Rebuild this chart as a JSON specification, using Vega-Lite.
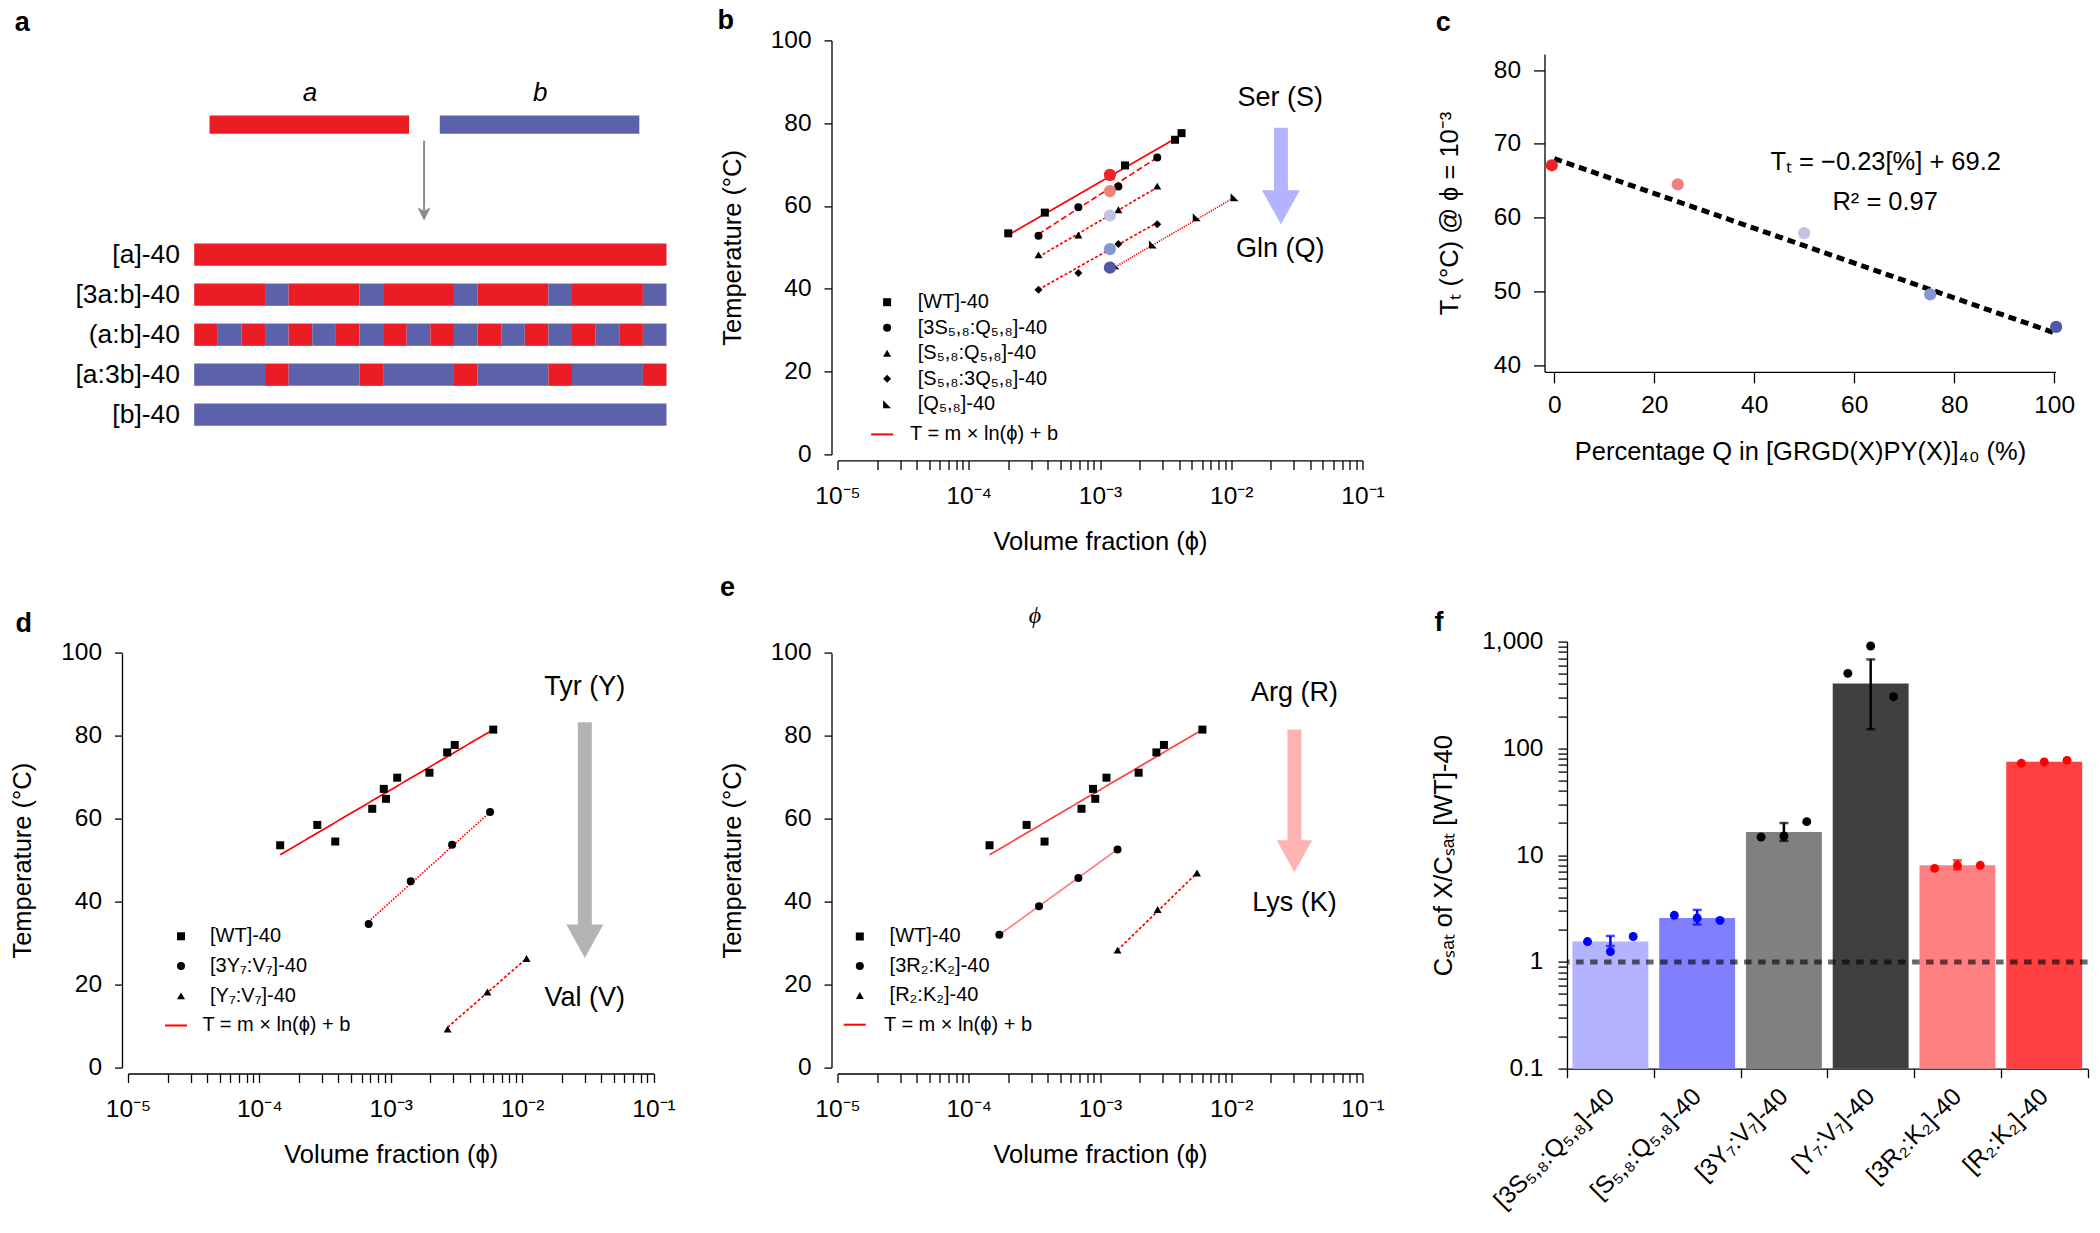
{
  "$schema": "https://vega.github.io/schema/vega-lite/v6.json",
  "background": "white",
  "padding": {"left": 10, "top": 7.4, "right": 0, "bottom": 0},
  "config": {
    "view": {"stroke": null},
    "font": "Liberation Sans",
    "axis": {"labelFont": "Liberation Sans", "titleFont": "Liberation Sans", "labelFontSize": 24.5, "titleFontSize": 25.5, "titleFontWeight": "normal", "labelColor": "black", "titleColor": "black", "domainColor": "black", "tickColor": "black", "domainWidth": 1.3, "tickWidth": 1.3, "grid": false, "labelFlush": false, "labelOverlap": false},
    "legend": {"labelFont": "Liberation Sans", "labelFontSize": 20, "labelColor": "black", "title": null},
    "title": {"font": "Liberation Sans", "fontSize": 27, "fontWeight": "bold", "color": "black", "anchor": "start", "frame": "group", "offset": 0, "baseline": "alphabetic"}
  },
  "resolve": {"scale": {"color": "independent", "fill": "independent", "shape": "independent", "strokeDash": "independent", "opacity": "independent"}},
  "datasets": {
    "aTop": [{"x0": 0.65, "x1": 9.1, "k": "a"}, {"x0": 10.4, "x1": 18.85, "k": "b"}],
    "aTopLabels": [{"x": 4.9, "label": "a"}, {"x": 14.65, "label": "b"}],
    "aSegs": [
      {"pos": 3.25, "x0": 0, "x1": 20, "k": "a"},
      {"pos": 4.25, "x0": 0, "x1": 3, "k": "a"}, {"pos": 4.25, "x0": 3, "x1": 4, "k": "b"},
      {"pos": 4.25, "x0": 4, "x1": 7, "k": "a"}, {"pos": 4.25, "x0": 7, "x1": 8, "k": "b"},
      {"pos": 4.25, "x0": 8, "x1": 11, "k": "a"}, {"pos": 4.25, "x0": 11, "x1": 12, "k": "b"},
      {"pos": 4.25, "x0": 12, "x1": 15, "k": "a"}, {"pos": 4.25, "x0": 15, "x1": 16, "k": "b"},
      {"pos": 4.25, "x0": 16, "x1": 19, "k": "a"}, {"pos": 4.25, "x0": 19, "x1": 20, "k": "b"},
      {"pos": 5.25, "x0": 0, "x1": 1, "k": "a"}, {"pos": 5.25, "x0": 1, "x1": 2, "k": "b"},
      {"pos": 5.25, "x0": 2, "x1": 3, "k": "a"}, {"pos": 5.25, "x0": 3, "x1": 4, "k": "b"},
      {"pos": 5.25, "x0": 4, "x1": 5, "k": "a"}, {"pos": 5.25, "x0": 5, "x1": 6, "k": "b"},
      {"pos": 5.25, "x0": 6, "x1": 7, "k": "a"}, {"pos": 5.25, "x0": 7, "x1": 8, "k": "b"},
      {"pos": 5.25, "x0": 8, "x1": 9, "k": "a"}, {"pos": 5.25, "x0": 9, "x1": 10, "k": "b"},
      {"pos": 5.25, "x0": 10, "x1": 11, "k": "a"}, {"pos": 5.25, "x0": 11, "x1": 12, "k": "b"},
      {"pos": 5.25, "x0": 12, "x1": 13, "k": "a"}, {"pos": 5.25, "x0": 13, "x1": 14, "k": "b"},
      {"pos": 5.25, "x0": 14, "x1": 15, "k": "a"}, {"pos": 5.25, "x0": 15, "x1": 16, "k": "b"},
      {"pos": 5.25, "x0": 16, "x1": 17, "k": "a"}, {"pos": 5.25, "x0": 17, "x1": 18, "k": "b"},
      {"pos": 5.25, "x0": 18, "x1": 19, "k": "a"}, {"pos": 5.25, "x0": 19, "x1": 20, "k": "b"},
      {"pos": 6.25, "x0": 0, "x1": 3, "k": "b"}, {"pos": 6.25, "x0": 3, "x1": 4, "k": "a"},
      {"pos": 6.25, "x0": 4, "x1": 7, "k": "b"}, {"pos": 6.25, "x0": 7, "x1": 8, "k": "a"},
      {"pos": 6.25, "x0": 8, "x1": 11, "k": "b"}, {"pos": 6.25, "x0": 11, "x1": 12, "k": "a"},
      {"pos": 6.25, "x0": 12, "x1": 15, "k": "b"}, {"pos": 6.25, "x0": 15, "x1": 16, "k": "a"},
      {"pos": 6.25, "x0": 16, "x1": 19, "k": "b"}, {"pos": 6.25, "x0": 19, "x1": 20, "k": "a"},
      {"pos": 7.25, "x0": 0, "x1": 20, "k": "b"}
    ],
    "aLabels": [
      {"pos": 3.25, "label": "[a]-40"}, {"pos": 4.25, "label": "[3a:b]-40"}, {"pos": 5.25, "label": "(a:b]-40"},
      {"pos": 6.25, "label": "[a:3b]-40"}, {"pos": 7.25, "label": "[b]-40"}
    ],
    "bPts": [
      {"series": "[WT]-40", "phi": 2.0e-4, "T": 53.4}, {"series": "[WT]-40", "phi": 3.8e-4, "T": 58.4},
      {"series": "[WT]-40", "phi": 1.2e-3, "T": 67.2}, {"series": "[WT]-40", "phi": 1.55e-3, "T": 69.8},
      {"series": "[WT]-40", "phi": 3.73e-3, "T": 76.0}, {"series": "[WT]-40", "phi": 4.18e-3, "T": 77.6},
      {"series": "[3S₅,₈:Q₅,₈]-40", "phi": 3.4e-4, "T": 52.8}, {"series": "[3S₅,₈:Q₅,₈]-40", "phi": 6.84e-4, "T": 59.7},
      {"series": "[3S₅,₈:Q₅,₈]-40", "phi": 1.38e-3, "T": 64.7}, {"series": "[3S₅,₈:Q₅,₈]-40", "phi": 2.73e-3, "T": 71.7},
      {"series": "[S₅,₈:Q₅,₈]-40", "phi": 3.4e-4, "T": 48.2}, {"series": "[S₅,₈:Q₅,₈]-40", "phi": 6.84e-4, "T": 53.0},
      {"series": "[S₅,₈:Q₅,₈]-40", "phi": 1.38e-3, "T": 59.1}, {"series": "[S₅,₈:Q₅,₈]-40", "phi": 2.73e-3, "T": 64.8},
      {"series": "[S₅,₈:3Q₅,₈]-40", "phi": 3.4e-4, "T": 39.8}, {"series": "[S₅,₈:3Q₅,₈]-40", "phi": 6.84e-4, "T": 43.8},
      {"series": "[S₅,₈:3Q₅,₈]-40", "phi": 1.38e-3, "T": 50.8}, {"series": "[S₅,₈:3Q₅,₈]-40", "phi": 2.73e-3, "T": 55.6},
      {"series": "[Q₅,₈]-40", "phi": 1.31e-3, "T": 45.7}, {"series": "[Q₅,₈]-40", "phi": 2.53e-3, "T": 50.7},
      {"series": "[Q₅,₈]-40", "phi": 5.46e-3, "T": 57.3}, {"series": "[Q₅,₈]-40", "phi": 1.06e-2, "T": 62.1}
    ],
    "bFits": [
      {"series": "[WT]-40", "phi": 2.0e-4, "T": 53.0}, {"series": "[WT]-40", "phi": 4.2e-3, "T": 77.2},
      {"series": "[3S₅,₈:Q₅,₈]-40", "phi": 3.4e-4, "T": 53.2}, {"series": "[3S₅,₈:Q₅,₈]-40", "phi": 2.73e-3, "T": 71.7},
      {"series": "[S₅,₈:Q₅,₈]-40", "phi": 3.4e-4, "T": 47.7}, {"series": "[S₅,₈:Q₅,₈]-40", "phi": 2.73e-3, "T": 64.5},
      {"series": "[S₅,₈:3Q₅,₈]-40", "phi": 3.4e-4, "T": 39.8}, {"series": "[S₅,₈:3Q₅,₈]-40", "phi": 2.73e-3, "T": 56.0},
      {"series": "[Q₅,₈]-40", "phi": 1.31e-3, "T": 45.3}, {"series": "[Q₅,₈]-40", "phi": 1.06e-2, "T": 62.1}
    ],
    "bCirc": [
      {"pct": 0, "phi": 1.19e-3, "T": 67.5}, {"pct": 25, "phi": 1.19e-3, "T": 63.6}, {"pct": 50, "phi": 1.19e-3, "T": 57.7},
      {"pct": 75, "phi": 1.19e-3, "T": 49.6}, {"pct": 100, "phi": 1.19e-3, "T": 45.1}
    ],
    "bArrow": [{"phi": 0.0239, "T1": 78.9, "T2": 63.0, "Th": 59.7}],
    "bText": [{"phi": 0.0236, "T": 86.2, "label": "Ser (S)"}, {"phi": 0.0236, "T": 49.7, "label": "Gln (Q)"}],
    "cFit": [{"q": 0, "Tt": 68.0}, {"q": 100, "Tt": 44.4}],
    "cPts": [
      {"pct": 0, "q": -0.5, "Tt": 67.1}, {"pct": 25, "q": 24.7, "Tt": 64.5}, {"pct": 50, "q": 50.0, "Tt": 57.9},
      {"pct": 75, "q": 75.2, "Tt": 49.6}, {"pct": 100, "q": 100.4, "Tt": 45.2}
    ],
    "cText": [{"q": 66.3, "Tt": 67.6, "label": "Tₜ = −0.23[%] + 69.2"}, {"q": 66.2, "Tt": 62.1, "label": "R² = 0.97"}],
    "dPts": [
      {"series": "[WT]-40", "phi": 1.44e-4, "T": 53.6}, {"series": "[WT]-40", "phi": 2.76e-4, "T": 58.5},
      {"series": "[WT]-40", "phi": 3.78e-4, "T": 54.5}, {"series": "[WT]-40", "phi": 7.23e-4, "T": 62.4},
      {"series": "[WT]-40", "phi": 8.85e-4, "T": 67.2}, {"series": "[WT]-40", "phi": 9.2e-4, "T": 64.8},
      {"series": "[WT]-40", "phi": 1.12e-3, "T": 69.9}, {"series": "[WT]-40", "phi": 1.97e-3, "T": 71.1},
      {"series": "[WT]-40", "phi": 2.69e-3, "T": 76.0}, {"series": "[WT]-40", "phi": 3.07e-3, "T": 77.8},
      {"series": "[WT]-40", "phi": 6.03e-3, "T": 81.5},
      {"series": "[3Y₇:V₇]-40", "phi": 6.79e-4, "T": 34.6}, {"series": "[3Y₇:V₇]-40", "phi": 1.42e-3, "T": 44.9},
      {"series": "[3Y₇:V₇]-40", "phi": 2.93e-3, "T": 53.7}, {"series": "[3Y₇:V₇]-40", "phi": 5.70e-3, "T": 61.6},
      {"series": "[Y₇:V₇]-40", "phi": 2.71e-3, "T": 9.25}, {"series": "[Y₇:V₇]-40", "phi": 5.44e-3, "T": 18.2},
      {"series": "[Y₇:V₇]-40", "phi": 1.08e-2, "T": 26.3}
    ],
    "dFits": [
      {"series": "[WT]-40", "phi": 1.44e-4, "T": 51.3}, {"series": "[WT]-40", "phi": 6.03e-3, "T": 81.5},
      {"series": "[3Y₇:V₇]-40", "phi": 6.79e-4, "T": 35.2}, {"series": "[3Y₇:V₇]-40", "phi": 5.70e-3, "T": 61.6},
      {"series": "[Y₇:V₇]-40", "phi": 2.71e-3, "T": 9.7}, {"series": "[Y₇:V₇]-40", "phi": 1.08e-2, "T": 26.3}
    ],
    "dArrow": [{"phi": 0.030, "T1": 83.3, "T2": 34.0, "Th": 30.45}],
    "dText": [{"phi": 0.030, "T": 91.7, "label": "Tyr (Y)"}, {"phi": 0.030, "T": 16.7, "label": "Val (V)"}],
    "ePts": [
      {"series": "[WT]-40", "phi": 1.44e-4, "T": 53.6}, {"series": "[WT]-40", "phi": 2.76e-4, "T": 58.5},
      {"series": "[WT]-40", "phi": 3.78e-4, "T": 54.5}, {"series": "[WT]-40", "phi": 7.23e-4, "T": 62.4},
      {"series": "[WT]-40", "phi": 8.85e-4, "T": 67.2}, {"series": "[WT]-40", "phi": 9.2e-4, "T": 64.8},
      {"series": "[WT]-40", "phi": 1.12e-3, "T": 69.9}, {"series": "[WT]-40", "phi": 1.97e-3, "T": 71.1},
      {"series": "[WT]-40", "phi": 2.69e-3, "T": 76.0}, {"series": "[WT]-40", "phi": 3.07e-3, "T": 77.8},
      {"series": "[WT]-40", "phi": 6.03e-3, "T": 81.5},
      {"series": "[3R₂:K₂]-40", "phi": 1.71e-4, "T": 32.0}, {"series": "[3R₂:K₂]-40", "phi": 3.43e-4, "T": 38.9},
      {"series": "[3R₂:K₂]-40", "phi": 6.84e-4, "T": 45.7}, {"series": "[3R₂:K₂]-40", "phi": 1.36e-3, "T": 52.6},
      {"series": "[R₂:K₂]-40", "phi": 1.36e-3, "T": 28.3}, {"series": "[R₂:K₂]-40", "phi": 2.75e-3, "T": 38.1},
      {"series": "[R₂:K₂]-40", "phi": 5.48e-3, "T": 46.9}
    ],
    "eFits": [
      {"series": "[WT]-40", "phi": 1.44e-4, "T": 51.3}, {"series": "[WT]-40", "phi": 6.03e-3, "T": 81.5},
      {"series": "[3R₂:K₂]-40", "phi": 1.71e-4, "T": 32.0}, {"series": "[3R₂:K₂]-40", "phi": 1.36e-3, "T": 52.6},
      {"series": "[R₂:K₂]-40", "phi": 1.36e-3, "T": 28.3}, {"series": "[R₂:K₂]-40", "phi": 5.48e-3, "T": 46.9}
    ],
    "eArrow": [{"phi": 0.0303, "T1": 81.5, "T2": 54.3, "Th": 50.95}],
    "eText": [{"phi": 0.0303, "T": 90.3, "label": "Arg (R)"}, {"phi": 0.0303, "T": 39.6, "label": "Lys (K)"}],
    "eStray": [{"phi": 3.19e-4, "T": 108.9, "label": "ϕ"}],
    "fBars": [
      {"label": "[3S₅,₈:Q₅,₈]-40", "val": 1.55}, {"label": "[S₅,₈:Q₅,₈]-40", "val": 2.58},
      {"label": "[3Y₇:V₇]-40", "val": 16.5}, {"label": "[Y₇:V₇]-40", "val": 406},
      {"label": "[3R₂:K₂]-40", "val": 8.03}, {"label": "[R₂:K₂]-40", "val": 75.0}
    ],
    "fDots": [
      {"label": "[3S₅,₈:Q₅,₈]-40", "rep": 1, "val": 1.55, "fam": "SQ"}, {"label": "[3S₅,₈:Q₅,₈]-40", "rep": 2, "val": 1.25, "fam": "SQ"}, {"label": "[3S₅,₈:Q₅,₈]-40", "rep": 3, "val": 1.73, "fam": "SQ"},
      {"label": "[S₅,₈:Q₅,₈]-40", "rep": 1, "val": 2.73, "fam": "SQ"}, {"label": "[S₅,₈:Q₅,₈]-40", "rep": 2, "val": 2.58, "fam": "SQ"}, {"label": "[S₅,₈:Q₅,₈]-40", "rep": 3, "val": 2.45, "fam": "SQ"},
      {"label": "[3Y₇:V₇]-40", "rep": 1, "val": 14.8, "fam": "YV"}, {"label": "[3Y₇:V₇]-40", "rep": 2, "val": 15.1, "fam": "YV"}, {"label": "[3Y₇:V₇]-40", "rep": 3, "val": 20.6, "fam": "YV"},
      {"label": "[Y₇:V₇]-40", "rep": 1, "val": 504, "fam": "YV"}, {"label": "[Y₇:V₇]-40", "rep": 2, "val": 910, "fam": "YV"}, {"label": "[Y₇:V₇]-40", "rep": 3, "val": 305, "fam": "YV"},
      {"label": "[3R₂:K₂]-40", "rep": 1, "val": 7.52, "fam": "RK"}, {"label": "[3R₂:K₂]-40", "rep": 2, "val": 8.03, "fam": "RK"}, {"label": "[3R₂:K₂]-40", "rep": 3, "val": 8.03, "fam": "RK"},
      {"label": "[R₂:K₂]-40", "rep": 1, "val": 72.4, "fam": "RK"}, {"label": "[R₂:K₂]-40", "rep": 2, "val": 74.6, "fam": "RK"}, {"label": "[R₂:K₂]-40", "rep": 3, "val": 77.2, "fam": "RK"}
    ],
    "fErr": [
      {"label": "[3S₅,₈:Q₅,₈]-40", "lo": 1.41, "hi": 1.75, "fam": "SQ"},
      {"label": "[S₅,₈:Q₅,₈]-40", "lo": 2.24, "hi": 3.07, "fam": "SQ"},
      {"label": "[3Y₇:V₇]-40", "lo": 13.6, "hi": 20.0, "fam": "YV"},
      {"label": "[Y₇:V₇]-40", "lo": 151, "hi": 681, "fam": "YV"},
      {"label": "[3R₂:K₂]-40", "lo": 7.36, "hi": 8.94, "fam": "RK"}
    ]
  },
  "columns": 3,
  "spacing": {"row": 187.2, "column": 181.5},
  "bounds": "flush",
  "concat": [
    {
      "width": 527.5, "height": 414,
      "title": {"text": "a", "dx": -113.3, "dy": 0.4},
      "layer": [
        {"data": {"name": "aTop"}, "mark": {"type": "rule", "strokeWidth": 18.3, "strokeCap": "butt"},
         "encoding": {
           "x": {"field": "x0", "type": "quantitative", "scale": {"domain": [-2.803, 19.535], "nice": false, "zero": false}, "axis": null},
           "x2": {"field": "x1"},
           "y": {"datum": 0, "type": "quantitative", "scale": {"domain": [-2.1075, 8.2425], "nice": false, "zero": false, "reverse": true}, "axis": null},
           "color": {"field": "k", "type": "nominal", "scale": {"domain": ["a", "b"], "range": ["#EC1C24", "#5B62AB"]}, "legend": null}
         }},
        {"data": {"name": "aSegs"}, "mark": {"type": "rule", "strokeWidth": 22.3, "strokeCap": "butt"},
         "encoding": {
           "x": {"field": "x0", "type": "quantitative", "axis": null}, "x2": {"field": "x1"},
           "y": {"field": "pos", "type": "quantitative", "axis": null},
           "color": {"field": "k", "type": "nominal", "legend": null}
         }},
        {"data": {"name": "aLabels"}, "mark": {"type": "text", "align": "right", "baseline": "middle", "fontSize": 26.5, "font": "Liberation Sans", "color": "black"},
         "encoding": {"x": {"datum": -0.6, "type": "quantitative", "axis": null}, "y": {"field": "pos", "type": "quantitative", "axis": null}, "text": {"field": "label"}}},
        {"data": {"name": "aTopLabels"}, "mark": {"type": "text", "align": "center", "baseline": "middle", "fontSize": 26, "fontStyle": "italic", "font": "Liberation Sans", "color": "black"},
         "encoding": {"x": {"field": "x", "type": "quantitative", "axis": null}, "y": {"datum": -0.79, "type": "quantitative", "axis": null}, "text": {"field": "label"}}},
        {"data": {"values": [{}]}, "mark": {"type": "rule", "color": "#8C8C8C", "strokeWidth": 2},
         "encoding": {"x": {"datum": 9.735, "type": "quantitative", "axis": null}, "y": {"datum": 0.4, "type": "quantitative", "axis": null}, "y2": {"datum": 2.2}}},
        {"data": {"values": [{}]}, "mark": {"type": "point", "shape": "M0,1L-1,-1L0,-0.45L1,-1Z", "size": 180, "filled": true, "color": "#8C8C8C", "opacity": 1},
         "encoding": {"x": {"datum": 9.735, "type": "quantitative", "axis": null}, "y": {"datum": 2.23, "type": "quantitative", "axis": null}}}
      ]
    },
    {
      "width": 547.5, "height": 414,
      "title": {"text": "b", "dx": -120, "dy": 12.1},
      "layer": [
        {"data": {"name": "bFits"}, "mark": {"type": "line", "strokeWidth": 1.7},
         "encoding": {
           "x": {"field": "phi", "type": "quantitative", "scale": {"type": "log", "domain": [1e-5, 0.1], "nice": false, "range": [0, 525]},
                 "axis": {"orient": "bottom", "values": [1e-5, 2e-5, 3e-5, 4e-5, 5e-5, 6e-5, 7e-5, 8e-5, 9e-5, 1e-4, 2e-4, 3e-4, 4e-4, 5e-4, 6e-4, 7e-4, 8e-4, 9e-4, 0.001, 0.002, 0.003, 0.004, 0.005, 0.006, 0.007, 0.008, 0.009, 0.01, 0.02, 0.03, 0.04, 0.05, 0.06, 0.07, 0.08, 0.09, 0.1], "offset": 6, "tickSize": 9, "labelPadding": 15,
                          "labelExpr": "indexof([0.00001, 0.0001, 0.001, 0.01, 0.1], datum.value) < 0 ? '' : datum.value < 5e-5 ? '10⁻⁵' : datum.value < 5e-4 ? '10⁻⁴' : datum.value < 5e-3 ? '10⁻³' : datum.value < 5e-2 ? '10⁻²' : '10⁻¹'",
                          "encode": {"ticks": {"y2": {"value": {"expr": "indexof([0.00001, 0.0001, 0.001, 0.01, 0.1], datum.value) >= 0 ? 9 : 5"}}}},
                          "title": "Volume fraction (ϕ)", "titlePadding": 22}},
           "y": {"field": "T", "type": "quantitative", "scale": {"domain": [0, 100], "nice": false, "zero": false},
                 "axis": {"values": [0, 20, 40, 60, 80, 100], "offset": 6, "tickSize": 7.5, "labelPadding": 13, "title": "Temperature (°C)", "titlePadding": 25}},
           "detail": {"field": "series", "type": "nominal"},
           "strokeDash": {"field": "series", "type": "nominal", "scale": {"domain": ["[Q₅,₈]-40", "[S₅,₈:3Q₅,₈]-40", "[S₅,₈:Q₅,₈]-40", "[3S₅,₈:Q₅,₈]-40", "[WT]-40"], "range": [[1.2, 1.2], [3, 2], [3, 2], [6, 3], [1, 0]]}, "legend": null},
           "color": {"datum": "T = m × ln(ϕ) + b", "type": "nominal", "scale": {"domain": ["T = m × ln(ϕ) + b"], "range": ["#FF0000"]}, "legend": {"orient": "none", "legendX": 32.6, "legendY": 382, "symbolType": "stroke", "symbolSize": 484, "symbolStrokeWidth": 2, "labelOffset": 15.9}}
         }},
        {"data": {"name": "bPts"}, "mark": {"type": "point", "filled": true, "color": "black", "size": 64, "opacity": 1},
         "encoding": {
           "x": {"field": "phi", "type": "quantitative"},
           "y": {"field": "T", "type": "quantitative"},
           "shape": {"field": "series", "type": "nominal", "scale": {"domain": ["[WT]-40", "[3S₅,₈:Q₅,₈]-40", "[S₅,₈:Q₅,₈]-40", "[S₅,₈:3Q₅,₈]-40", "[Q₅,₈]-40"], "range": ["square", "circle", "triangle-up", "diamond", "M-1,-1L1,1L-1,1Z"]},
                     "legend": {"orient": "none", "legendX": 39.6, "legendY": 251.8, "symbolSize": 64, "symbolFillColor": "black", "symbolStrokeWidth": 0, "rowPadding": 5.5, "labelOffset": 20.7}}
         }},
        {"data": {"name": "bCirc"}, "mark": {"type": "circle", "size": 150, "opacity": 1},
         "encoding": {
           "x": {"field": "phi", "type": "quantitative"},
           "y": {"field": "T", "type": "quantitative"},
           "fill": {"field": "pct", "type": "ordinal", "scale": {"domain": [0, 25, 50, 75, 100], "range": ["#EE2229", "#F08080", "#C2C2E2", "#8497D2", "#5059A8"]}, "legend": null}
         }},
        {"data": {"name": "bArrow"}, "mark": {"type": "rule", "strokeWidth": 14, "color": "#B3B3FF", "strokeCap": "butt"},
         "encoding": {"x": {"field": "phi", "type": "quantitative"}, "y": {"field": "T1", "type": "quantitative"}, "y2": {"field": "T2"}}},
        {"data": {"name": "bArrow"}, "mark": {"type": "point", "shape": "M-1,-0.9L1,-0.9L0,0.9Z", "filled": true, "color": "#B3B3FF", "size": 1444, "opacity": 1},
         "encoding": {"x": {"field": "phi", "type": "quantitative"}, "y": {"field": "Th", "type": "quantitative"}}},
        {"data": {"name": "bText"}, "mark": {"type": "text", "fontSize": 27, "font": "Liberation Sans", "align": "center", "baseline": "middle", "color": "black"},
         "encoding": {"x": {"field": "phi", "type": "quantitative"}, "y": {"field": "T", "type": "quantitative"}, "text": {"field": "label"}}}
      ]
    },
    {
      "width": 488.5, "height": 331.4,
      "title": {"text": "c", "dx": -131.2, "dy": 0.4},
      "layer": [
        {"data": {"name": "cFit"}, "mark": {"type": "line", "color": "black", "strokeWidth": 5, "strokeDash": [8, 5]},
         "encoding": {
           "x": {"field": "q", "type": "quantitative", "scale": {"domain": [-1.96, 100.27], "nice": false, "zero": false, "range": [-22.5, 488.5]},
                 "axis": {"values": [0, 20, 40, 60, 80, 100], "tickSize": 11, "labelPadding": 11, "title": "Percentage Q in [GRGD(X)PY(X)]₄₀ (%)", "titlePadding": 22}},
           "y": {"field": "Tt", "type": "quantitative", "scale": {"domain": [39.1, 82.17], "nice": false, "zero": false, "range": [331.4, 13.7]},
                 "axis": {"values": [40, 50, 60, 70, 80], "offset": 22.5, "tickSize": 11, "labelPadding": 13, "title": "Tₜ (°C) @ ϕ = 10⁻³", "titlePadding": 31}}
         }},
        {"data": {"name": "cPts"}, "mark": {"type": "circle", "size": 150, "opacity": 1},
         "encoding": {
           "x": {"field": "q", "type": "quantitative"},
           "y": {"field": "Tt", "type": "quantitative"},
           "fill": {"field": "pct", "type": "ordinal", "scale": {"domain": [0, 25, 50, 75, 100], "range": ["#EE2229", "#F08080", "#C2C2E2", "#8497D2", "#5059A8"]}, "legend": null}
         }},
        {"data": {"name": "cText"}, "mark": {"type": "text", "fontSize": 25.5, "font": "Liberation Sans", "align": "center", "baseline": "middle", "color": "black"},
         "encoding": {"x": {"field": "q", "type": "quantitative"}, "y": {"field": "Tt", "type": "quantitative"}, "text": {"field": "label"}}}
      ]
    },
    {
      "width": 525.5, "height": 425.9,
      "title": {"text": "d", "dx": -112.4, "dy": 2.2},
      "layer": [
        {"data": {"name": "dFits"}, "mark": {"type": "line", "strokeWidth": 1.7},
         "encoding": {
           "x": {"field": "phi", "type": "quantitative", "scale": {"type": "log", "domain": [1e-5, 0.1], "nice": false},
                 "axis": {"orient": "bottom", "values": [1e-5, 2e-5, 3e-5, 4e-5, 5e-5, 6e-5, 7e-5, 8e-5, 9e-5, 1e-4, 2e-4, 3e-4, 4e-4, 5e-4, 6e-4, 7e-4, 8e-4, 9e-4, 0.001, 0.002, 0.003, 0.004, 0.005, 0.006, 0.007, 0.008, 0.009, 0.01, 0.02, 0.03, 0.04, 0.05, 0.06, 0.07, 0.08, 0.09, 0.1], "offset": 6, "tickSize": 9, "labelPadding": 15,
                          "labelExpr": "indexof([0.00001, 0.0001, 0.001, 0.01, 0.1], datum.value) < 0 ? '' : datum.value < 5e-5 ? '10⁻⁵' : datum.value < 5e-4 ? '10⁻⁴' : datum.value < 5e-3 ? '10⁻³' : datum.value < 5e-2 ? '10⁻²' : '10⁻¹'",
                          "encode": {"ticks": {"y2": {"value": {"expr": "indexof([0.00001, 0.0001, 0.001, 0.01, 0.1], datum.value) >= 0 ? 9 : 5"}}}},
                          "title": "Volume fraction (ϕ)", "titlePadding": 22}},
           "y": {"field": "T", "type": "quantitative", "scale": {"domain": [0, 100], "nice": false, "zero": false, "range": [425.9, 11.3]},
                 "axis": {"values": [0, 20, 40, 60, 80, 100], "offset": 6, "tickSize": 7.5, "labelPadding": 13, "title": "Temperature (°C)", "titlePadding": 25}},
           "detail": {"field": "series", "type": "nominal"},
           "strokeDash": {"field": "series", "type": "nominal", "scale": {"domain": ["[Y₇:V₇]-40", "[3Y₇:V₇]-40", "[WT]-40"], "range": [[3, 2], [1.5, 1.5], [1, 0]]}, "legend": null},
           "color": {"datum": "T = m × ln(ϕ) + b", "type": "nominal", "scale": {"domain": ["T = m × ln(ϕ) + b"], "range": ["#FF0000"]}, "legend": {"orient": "none", "legendX": 36, "legendY": 371.9, "symbolType": "stroke", "symbolSize": 484, "symbolStrokeWidth": 2, "labelOffset": 14.4}}
         }},
        {"data": {"name": "dPts"}, "mark": {"type": "point", "filled": true, "color": "black", "size": 64, "opacity": 1},
         "encoding": {
           "x": {"field": "phi", "type": "quantitative"},
           "y": {"field": "T", "type": "quantitative"},
           "shape": {"field": "series", "type": "nominal", "scale": {"domain": ["[WT]-40", "[3Y₇:V₇]-40", "[Y₇:V₇]-40"], "range": ["square", "circle", "triangle-up"]},
                     "legend": {"orient": "none", "legendX": 43, "legendY": 284.7, "symbolSize": 64, "symbolFillColor": "black", "symbolStrokeWidth": 0, "rowPadding": 9.8, "labelOffset": 19}}
         }},
        {"data": {"name": "dArrow"}, "mark": {"type": "rule", "strokeWidth": 14, "color": "#B3B3B3", "strokeCap": "butt"},
         "encoding": {"x": {"field": "phi", "type": "quantitative"}, "y": {"field": "T1", "type": "quantitative"}, "y2": {"field": "T2"}}},
        {"data": {"name": "dArrow"}, "mark": {"type": "point", "shape": "M-1,-0.9L1,-0.9L0,0.9Z", "filled": true, "color": "#B3B3B3", "size": 1369, "opacity": 1},
         "encoding": {"x": {"field": "phi", "type": "quantitative"}, "y": {"field": "Th", "type": "quantitative"}}},
        {"data": {"name": "dText"}, "mark": {"type": "text", "fontSize": 27, "font": "Liberation Sans", "align": "center", "baseline": "middle", "color": "black"},
         "encoding": {"x": {"field": "phi", "type": "quantitative"}, "y": {"field": "T", "type": "quantitative"}, "text": {"field": "label"}}}
      ]
    },
    {
      "width": 547.5, "height": 425.9,
      "title": {"text": "e", "dx": -117.5, "dy": 2.2},
      "layer": [
        {"data": {"name": "eFits"}, "mark": {"type": "line", "strokeWidth": 1.7},
         "encoding": {
           "x": {"field": "phi", "type": "quantitative", "scale": {"type": "log", "domain": [1e-5, 0.1], "nice": false, "range": [0, 525]},
                 "axis": {"orient": "bottom", "values": [1e-5, 2e-5, 3e-5, 4e-5, 5e-5, 6e-5, 7e-5, 8e-5, 9e-5, 1e-4, 2e-4, 3e-4, 4e-4, 5e-4, 6e-4, 7e-4, 8e-4, 9e-4, 0.001, 0.002, 0.003, 0.004, 0.005, 0.006, 0.007, 0.008, 0.009, 0.01, 0.02, 0.03, 0.04, 0.05, 0.06, 0.07, 0.08, 0.09, 0.1], "offset": 6, "tickSize": 9, "labelPadding": 15,
                          "labelExpr": "indexof([0.00001, 0.0001, 0.001, 0.01, 0.1], datum.value) < 0 ? '' : datum.value < 5e-5 ? '10⁻⁵' : datum.value < 5e-4 ? '10⁻⁴' : datum.value < 5e-3 ? '10⁻³' : datum.value < 5e-2 ? '10⁻²' : '10⁻¹'",
                          "encode": {"ticks": {"y2": {"value": {"expr": "indexof([0.00001, 0.0001, 0.001, 0.01, 0.1], datum.value) >= 0 ? 9 : 5"}}}},
                          "title": "Volume fraction (ϕ)", "titlePadding": 22}},
           "y": {"field": "T", "type": "quantitative", "scale": {"domain": [0, 100], "nice": false, "zero": false, "range": [425.9, 11.3]},
                 "axis": {"values": [0, 20, 40, 60, 80, 100], "offset": 6, "tickSize": 7.5, "labelPadding": 13, "title": "Temperature (°C)", "titlePadding": 25}},
           "detail": {"field": "series", "type": "nominal"},
           "strokeDash": {"field": "series", "type": "nominal", "scale": {"domain": ["[R₂:K₂]-40", "[3R₂:K₂]-40", "[WT]-40"], "range": [[3, 2], [1, 0], [1, 0]]}, "legend": null},
           "opacity": {"field": "series", "type": "nominal", "scale": {"domain": ["[3R₂:K₂]-40", "[WT]-40", "[R₂:K₂]-40"], "range": [0.5, 1, 1]}, "legend": null},
           "color": {"datum": "T = m × ln(ϕ) + b", "type": "nominal", "scale": {"domain": ["T = m × ln(ϕ) + b"], "range": ["#FF0000"]}, "legend": {"orient": "none", "legendX": 5.3, "legendY": 371.1, "symbolType": "stroke", "symbolSize": 484, "symbolStrokeWidth": 2, "labelOffset": 17.2}}
         }},
        {"data": {"name": "ePts"}, "mark": {"type": "point", "filled": true, "color": "black", "size": 64, "opacity": 1},
         "encoding": {
           "x": {"field": "phi", "type": "quantitative"},
           "y": {"field": "T", "type": "quantitative"},
           "shape": {"field": "series", "type": "nominal", "scale": {"domain": ["[WT]-40", "[3R₂:K₂]-40", "[R₂:K₂]-40"], "range": ["square", "circle", "triangle-up"]},
                     "legend": {"orient": "none", "legendX": 12.3, "legendY": 284.9, "symbolSize": 64, "symbolFillColor": "black", "symbolStrokeWidth": 0, "rowPadding": 9.5, "labelOffset": 19.8}}
         }},
        {"data": {"name": "eArrow"}, "mark": {"type": "rule", "strokeWidth": 14, "color": "#FFB3B3", "strokeCap": "butt"},
         "encoding": {"x": {"field": "phi", "type": "quantitative"}, "y": {"field": "T1", "type": "quantitative"}, "y2": {"field": "T2"}}},
        {"data": {"name": "eArrow"}, "mark": {"type": "point", "shape": "M-1,-0.9L1,-0.9L0,0.9Z", "filled": true, "color": "#FFB3B3", "size": 1250, "opacity": 1},
         "encoding": {"x": {"field": "phi", "type": "quantitative"}, "y": {"field": "Th", "type": "quantitative"}}},
        {"data": {"name": "eText"}, "mark": {"type": "text", "fontSize": 27, "font": "Liberation Sans", "align": "center", "baseline": "middle", "color": "black"},
         "encoding": {"x": {"field": "phi", "type": "quantitative"}, "y": {"field": "T", "type": "quantitative"}, "text": {"field": "label"}}},
        {"data": {"name": "eStray"}, "mark": {"type": "text", "fontSize": 24, "fontStyle": "italic", "font": "Liberation Serif", "align": "center", "baseline": "middle", "color": "black"},
         "encoding": {"x": {"field": "phi", "type": "quantitative"}, "y": {"field": "T", "type": "quantitative"}, "text": {"field": "label"}}}
      ]
    },
    {
      "width": 520.6, "height": 427.1,
      "title": {"text": "f", "dx": -132.5, "dy": 12.9},
      "layer": [
        {"data": {"name": "fBars"}, "mark": {"type": "bar", "width": {"band": 0.875}},
         "encoding": {
           "x": {"field": "label", "type": "nominal", "scale": {"domain": ["[3S₅,₈:Q₅,₈]-40", "[S₅,₈:Q₅,₈]-40", "[3Y₇:V₇]-40", "[Y₇:V₇]-40", "[3R₂:K₂]-40", "[R₂:K₂]-40"], "paddingInner": 0, "paddingOuter": 0},
                 "axis": {"title": null, "tickBand": "extent", "tickSize": 9, "labelAngle": -45, "labelAlign": "right", "labelBaseline": "middle", "labelPadding": 15}},
           "y": {"field": "val", "type": "quantitative", "title": "Cₛₐₜ of X/Cₛₐₜ [WT]-40", "scale": {"type": "log", "domain": [0.1, 1000], "nice": false},
                 "axis": {"values": [0.1, 0.2, 0.3, 0.4, 0.5, 0.6, 0.7, 0.8, 0.9, 1, 2, 3, 4, 5, 6, 7, 8, 9, 10, 20, 30, 40, 50, 60, 70, 80, 90, 100, 200, 300, 400, 500, 600, 700, 800, 900, 1000],
                          "labelExpr": "indexof([0.1, 1, 10, 100, 1000], datum.value) < 0 ? '' : format(datum.value, ',~g')",
                          "encode": {"ticks": {"x2": {"value": {"expr": "indexof([0.1, 1, 10, 100, 1000], datum.value) >= 0 ? -9 : -5"}}}},
                          "tickSize": 9, "labelPadding": 15, "title": "Cₛₐₜ of X/Cₛₐₜ [WT]-40", "titlePadding": 25}},
           "y2": {"datum": 0.1},
           "fill": {"field": "label", "type": "nominal", "scale": {"domain": ["[3S₅,₈:Q₅,₈]-40", "[S₅,₈:Q₅,₈]-40", "[3Y₇:V₇]-40", "[Y₇:V₇]-40", "[3R₂:K₂]-40", "[R₂:K₂]-40"], "range": ["#B3B3FF", "#8080FF", "#808080", "#404040", "#FF8080", "#FF4040"]}, "legend": null}
         }},
        {"data": {"values": [{}]}, "mark": {"type": "rule", "strokeWidth": 5, "strokeDash": [7.5, 6.5], "color": "black", "opacity": 0.6},
         "encoding": {"y": {"datum": 1, "type": "quantitative", "title": "Cₛₐₜ of X/Cₛₐₜ [WT]-40"}}},
        {"data": {"name": "fErr"}, "mark": {"type": "errorbar", "ticks": {"size": 9, "thickness": 2.5}, "thickness": 2.5},
         "encoding": {
           "x": {"field": "label", "type": "nominal"},
           "y": {"field": "lo", "type": "quantitative", "title": "Cₛₐₜ of X/Cₛₐₜ [WT]-40"},
           "y2": {"field": "hi"},
           "color": {"field": "fam", "type": "nominal", "scale": {"domain": ["SQ", "YV", "RK"], "range": ["#0000FF", "#000000", "#FF0000"]}, "legend": null}
         }},
        {"data": {"name": "fDots"}, "mark": {"type": "circle", "size": 80, "opacity": 1},
         "encoding": {
           "x": {"field": "label", "type": "nominal"},
           "xOffset": {"field": "rep", "type": "nominal", "scale": {"paddingInner": 0, "paddingOuter": 0.9}},
           "y": {"field": "val", "type": "quantitative", "title": "Cₛₐₜ of X/Cₛₐₜ [WT]-40"},
           "color": {"field": "fam", "type": "nominal", "legend": null}
         }}
      ],
      "resolve": {"scale": {"xOffset": "independent"}}
    }
  ]
}
